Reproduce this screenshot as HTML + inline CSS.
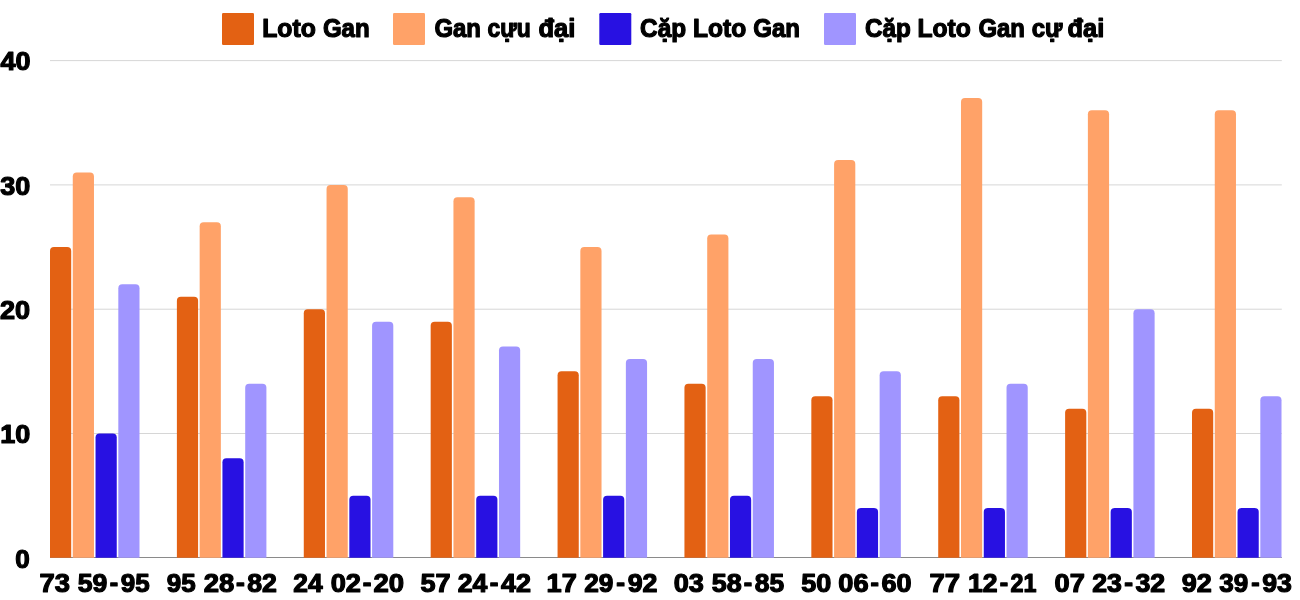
<!DOCTYPE html>
<html lang="vi">
<head>
<meta charset="utf-8">
<title>Loto Gan</title>
<style>
html,body{margin:0;padding:0;background:#fff;}
body{width:1300px;height:600px;overflow:hidden;}
svg{display:block;}
text{font-family:"Liberation Sans", sans-serif;font-weight:700;font-size:25.8px;fill:#000;stroke:#000;stroke-width:1.2px;stroke-linejoin:round;white-space:pre;}
</style>
</head>
<body>
<svg width="1300" height="600" viewBox="0 0 1300 600">
<rect x="0" y="0" width="1300" height="600" fill="#ffffff"/>
<rect x="50.0" y="433.00" width="1231.8" height="1" fill="#d6d6d6"/>
<rect x="50.0" y="308.70" width="1231.8" height="1" fill="#d6d6d6"/>
<rect x="50.0" y="184.40" width="1231.8" height="1" fill="#d6d6d6"/>
<rect x="50.0" y="60.10" width="1231.8" height="1" fill="#d6d6d6"/>
<rect x="50.0" y="557" width="1231.8" height="1" fill="#8a8a8a"/>
<path d="M50.00 557.80V251.05A4.0 4.0 0 0 1 54.00 247.05H67.20A4.0 4.0 0 0 1 71.20 251.05V557.80Z" fill="#e36113"/>
<path d="M72.77 557.80V176.47A4.0 4.0 0 0 1 76.77 172.47H89.97A4.0 4.0 0 0 1 93.97 176.47V557.80Z" fill="#ffa268"/>
<path d="M95.54 557.80V437.50A4.0 4.0 0 0 1 99.54 433.50H112.74A4.0 4.0 0 0 1 116.74 437.50V557.80Z" fill="#2811e2"/>
<path d="M118.31 557.80V288.34A4.0 4.0 0 0 1 122.31 284.34H135.51A4.0 4.0 0 0 1 139.51 288.34V557.80Z" fill="#a095ff"/>
<path d="M176.89 557.80V300.77A4.0 4.0 0 0 1 180.89 296.77H194.09A4.0 4.0 0 0 1 198.09 300.77V557.80Z" fill="#e36113"/>
<path d="M199.66 557.80V226.19A4.0 4.0 0 0 1 203.66 222.19H216.86A4.0 4.0 0 0 1 220.86 226.19V557.80Z" fill="#ffa268"/>
<path d="M222.43 557.80V462.36A4.0 4.0 0 0 1 226.43 458.36H239.63A4.0 4.0 0 0 1 243.63 462.36V557.80Z" fill="#2811e2"/>
<path d="M245.20 557.80V387.78A4.0 4.0 0 0 1 249.20 383.78H262.40A4.0 4.0 0 0 1 266.40 387.78V557.80Z" fill="#a095ff"/>
<path d="M303.78 557.80V313.20A4.0 4.0 0 0 1 307.78 309.20H320.98A4.0 4.0 0 0 1 324.98 313.20V557.80Z" fill="#e36113"/>
<path d="M326.55 557.80V188.90A4.0 4.0 0 0 1 330.55 184.90H343.75A4.0 4.0 0 0 1 347.75 188.90V557.80Z" fill="#ffa268"/>
<path d="M349.32 557.80V499.65A4.0 4.0 0 0 1 353.32 495.65H366.52A4.0 4.0 0 0 1 370.52 499.65V557.80Z" fill="#2811e2"/>
<path d="M372.09 557.80V325.63A4.0 4.0 0 0 1 376.09 321.63H389.29A4.0 4.0 0 0 1 393.29 325.63V557.80Z" fill="#a095ff"/>
<path d="M430.67 557.80V325.63A4.0 4.0 0 0 1 434.67 321.63H447.87A4.0 4.0 0 0 1 451.87 325.63V557.80Z" fill="#e36113"/>
<path d="M453.44 557.80V201.33A4.0 4.0 0 0 1 457.44 197.33H470.64A4.0 4.0 0 0 1 474.64 201.33V557.80Z" fill="#ffa268"/>
<path d="M476.21 557.80V499.65A4.0 4.0 0 0 1 480.21 495.65H493.41A4.0 4.0 0 0 1 497.41 499.65V557.80Z" fill="#2811e2"/>
<path d="M498.98 557.80V350.49A4.0 4.0 0 0 1 502.98 346.49H516.18A4.0 4.0 0 0 1 520.18 350.49V557.80Z" fill="#a095ff"/>
<path d="M557.56 557.80V375.35A4.0 4.0 0 0 1 561.56 371.35H574.76A4.0 4.0 0 0 1 578.76 375.35V557.80Z" fill="#e36113"/>
<path d="M580.33 557.80V251.05A4.0 4.0 0 0 1 584.33 247.05H597.53A4.0 4.0 0 0 1 601.53 251.05V557.80Z" fill="#ffa268"/>
<path d="M603.10 557.80V499.65A4.0 4.0 0 0 1 607.10 495.65H620.30A4.0 4.0 0 0 1 624.30 499.65V557.80Z" fill="#2811e2"/>
<path d="M625.87 557.80V362.92A4.0 4.0 0 0 1 629.87 358.92H643.07A4.0 4.0 0 0 1 647.07 362.92V557.80Z" fill="#a095ff"/>
<path d="M684.44 557.80V387.78A4.0 4.0 0 0 1 688.44 383.78H701.64A4.0 4.0 0 0 1 705.64 387.78V557.80Z" fill="#e36113"/>
<path d="M707.21 557.80V238.62A4.0 4.0 0 0 1 711.21 234.62H724.41A4.0 4.0 0 0 1 728.41 238.62V557.80Z" fill="#ffa268"/>
<path d="M729.98 557.80V499.65A4.0 4.0 0 0 1 733.98 495.65H747.18A4.0 4.0 0 0 1 751.18 499.65V557.80Z" fill="#2811e2"/>
<path d="M752.75 557.80V362.92A4.0 4.0 0 0 1 756.75 358.92H769.95A4.0 4.0 0 0 1 773.95 362.92V557.80Z" fill="#a095ff"/>
<path d="M811.33 557.80V400.21A4.0 4.0 0 0 1 815.33 396.21H828.53A4.0 4.0 0 0 1 832.53 400.21V557.80Z" fill="#e36113"/>
<path d="M834.10 557.80V164.04A4.0 4.0 0 0 1 838.10 160.04H851.30A4.0 4.0 0 0 1 855.30 164.04V557.80Z" fill="#ffa268"/>
<path d="M856.87 557.80V512.08A4.0 4.0 0 0 1 860.87 508.08H874.07A4.0 4.0 0 0 1 878.07 512.08V557.80Z" fill="#2811e2"/>
<path d="M879.64 557.80V375.35A4.0 4.0 0 0 1 883.64 371.35H896.84A4.0 4.0 0 0 1 900.84 375.35V557.80Z" fill="#a095ff"/>
<path d="M938.22 557.80V400.21A4.0 4.0 0 0 1 942.22 396.21H955.42A4.0 4.0 0 0 1 959.42 400.21V557.80Z" fill="#e36113"/>
<path d="M960.99 557.80V101.89A4.0 4.0 0 0 1 964.99 97.89H978.19A4.0 4.0 0 0 1 982.19 101.89V557.80Z" fill="#ffa268"/>
<path d="M983.76 557.80V512.08A4.0 4.0 0 0 1 987.76 508.08H1000.96A4.0 4.0 0 0 1 1004.96 512.08V557.80Z" fill="#2811e2"/>
<path d="M1006.53 557.80V387.78A4.0 4.0 0 0 1 1010.53 383.78H1023.73A4.0 4.0 0 0 1 1027.73 387.78V557.80Z" fill="#a095ff"/>
<path d="M1065.11 557.80V412.64A4.0 4.0 0 0 1 1069.11 408.64H1082.31A4.0 4.0 0 0 1 1086.31 412.64V557.80Z" fill="#e36113"/>
<path d="M1087.88 557.80V114.32A4.0 4.0 0 0 1 1091.88 110.32H1105.08A4.0 4.0 0 0 1 1109.08 114.32V557.80Z" fill="#ffa268"/>
<path d="M1110.65 557.80V512.08A4.0 4.0 0 0 1 1114.65 508.08H1127.85A4.0 4.0 0 0 1 1131.85 512.08V557.80Z" fill="#2811e2"/>
<path d="M1133.42 557.80V313.20A4.0 4.0 0 0 1 1137.42 309.20H1150.62A4.0 4.0 0 0 1 1154.62 313.20V557.80Z" fill="#a095ff"/>
<path d="M1192.00 557.80V412.64A4.0 4.0 0 0 1 1196.00 408.64H1209.20A4.0 4.0 0 0 1 1213.20 412.64V557.80Z" fill="#e36113"/>
<path d="M1214.77 557.80V114.32A4.0 4.0 0 0 1 1218.77 110.32H1231.97A4.0 4.0 0 0 1 1235.97 114.32V557.80Z" fill="#ffa268"/>
<path d="M1237.54 557.80V512.08A4.0 4.0 0 0 1 1241.54 508.08H1254.74A4.0 4.0 0 0 1 1258.74 512.08V557.80Z" fill="#2811e2"/>
<path d="M1260.31 557.80V400.21A4.0 4.0 0 0 1 1264.31 396.21H1277.51A4.0 4.0 0 0 1 1281.51 400.21V557.80Z" fill="#a095ff"/>
<text y="567.55"><tspan x="15.27" textLength="14.50" lengthAdjust="spacingAndGlyphs">0</tspan></text>
<text y="443.25"><tspan x="0.20" textLength="30.01" lengthAdjust="spacingAndGlyphs">10</tspan></text>
<text y="318.95"><tspan x="0.06" textLength="30.15" lengthAdjust="spacingAndGlyphs">20</tspan></text>
<text y="194.65"><tspan x="0.18" textLength="30.03" lengthAdjust="spacingAndGlyphs">30</tspan></text>
<text y="70.35"><tspan x="0.49" textLength="30.02" lengthAdjust="spacingAndGlyphs">40</tspan></text>
<text y="591.6"><tspan x="39.42" textLength="30.47" lengthAdjust="spacingAndGlyphs">73</tspan> <tspan x="77.78" textLength="29.61" lengthAdjust="spacingAndGlyphs">59</tspan><tspan x="109.82" dy="-0.9" textLength="8.39" lengthAdjust="spacingAndGlyphs">-</tspan><tspan x="120.70" dy="0.9" textLength="28.93" lengthAdjust="spacingAndGlyphs">95</tspan></text>
<text y="591.6"><tspan x="166.70" textLength="28.93" lengthAdjust="spacingAndGlyphs">95</tspan> <tspan x="203.65" textLength="30.60" lengthAdjust="spacingAndGlyphs">28</tspan><tspan x="235.97" dy="-0.9" textLength="8.79" lengthAdjust="spacingAndGlyphs">-</tspan><tspan x="247.25" dy="0.9" textLength="29.72" lengthAdjust="spacingAndGlyphs">82</tspan></text>
<text y="591.6"><tspan x="293.39" textLength="29.36" lengthAdjust="spacingAndGlyphs">24</tspan> <tspan x="330.72" textLength="30.27" lengthAdjust="spacingAndGlyphs">02</tspan><tspan x="362.78" dy="-0.9" textLength="8.66" lengthAdjust="spacingAndGlyphs">-</tspan><tspan x="373.45" dy="0.9" textLength="30.58" lengthAdjust="spacingAndGlyphs">20</tspan></text>
<text y="591.6"><tspan x="420.47" textLength="30.12" lengthAdjust="spacingAndGlyphs">57</tspan> <tspan x="457.68" textLength="29.67" lengthAdjust="spacingAndGlyphs">24</tspan><tspan x="489.78" dy="-0.9" textLength="8.66" lengthAdjust="spacingAndGlyphs">-</tspan><tspan x="500.99" dy="0.9" textLength="29.99" lengthAdjust="spacingAndGlyphs">42</tspan></text>
<text y="591.6"><tspan x="546.59" textLength="30.20" lengthAdjust="spacingAndGlyphs">17</tspan> <tspan x="584.19" textLength="29.18" lengthAdjust="spacingAndGlyphs">29</tspan><tspan x="616.27" dy="-0.9" textLength="8.79" lengthAdjust="spacingAndGlyphs">-</tspan><tspan x="627.67" dy="0.9" textLength="29.80" lengthAdjust="spacingAndGlyphs">92</tspan></text>
<text y="591.6"><tspan x="673.73" textLength="30.15" lengthAdjust="spacingAndGlyphs">03</tspan> <tspan x="711.77" textLength="29.96" lengthAdjust="spacingAndGlyphs">58</tspan><tspan x="743.82" dy="-0.9" textLength="8.39" lengthAdjust="spacingAndGlyphs">-</tspan><tspan x="754.76" dy="0.9" textLength="29.37" lengthAdjust="spacingAndGlyphs">85</tspan></text>
<text y="591.6"><tspan x="801.27" textLength="30.04" lengthAdjust="spacingAndGlyphs">50</tspan> <tspan x="838.32" textLength="30.26" lengthAdjust="spacingAndGlyphs">06</tspan><tspan x="870.62" dy="-0.9" textLength="8.39" lengthAdjust="spacingAndGlyphs">-</tspan><tspan x="881.41" dy="0.9" textLength="30.10" lengthAdjust="spacingAndGlyphs">60</tspan></text>
<text y="591.6"><tspan x="929.41" textLength="30.70" lengthAdjust="spacingAndGlyphs">77</tspan> <tspan x="967.93" textLength="29.54" lengthAdjust="spacingAndGlyphs">12</tspan><tspan x="999.82" dy="-0.9" textLength="8.39" lengthAdjust="spacingAndGlyphs">-</tspan><tspan x="1010.59" dy="0.9" textLength="25.96" lengthAdjust="spacingAndGlyphs">21</tspan></text>
<text y="591.6"><tspan x="1054.52" textLength="30.27" lengthAdjust="spacingAndGlyphs">07</tspan> <tspan x="1092.17" textLength="29.69" lengthAdjust="spacingAndGlyphs">23</tspan><tspan x="1124.27" dy="-0.9" textLength="8.79" lengthAdjust="spacingAndGlyphs">-</tspan><tspan x="1135.49" dy="0.9" textLength="29.79" lengthAdjust="spacingAndGlyphs">32</tspan></text>
<text y="591.6"><tspan x="1181.66" textLength="30.02" lengthAdjust="spacingAndGlyphs">92</tspan> <tspan x="1219.20" textLength="28.96" lengthAdjust="spacingAndGlyphs">39</tspan><tspan x="1251.32" dy="-0.9" textLength="8.39" lengthAdjust="spacingAndGlyphs">-</tspan><tspan x="1262.17" dy="0.9" textLength="29.69" lengthAdjust="spacingAndGlyphs">93</tspan></text>
<rect x="222" y="13" width="32" height="32" rx="1.2" fill="#e36113"/>
<text y="36.7"><tspan x="262.24" textLength="53.62" lengthAdjust="spacingAndGlyphs">Loto</tspan> <tspan x="322.91" textLength="46.78" lengthAdjust="spacingAndGlyphs">Gan</tspan></text>
<rect x="393" y="13" width="32" height="32" rx="1.2" fill="#ffa268"/>
<text y="36.7"><tspan x="434.42" textLength="46.46" lengthAdjust="spacingAndGlyphs">Gan</tspan> <tspan x="487.41" textLength="43.30" lengthAdjust="spacingAndGlyphs">cựu</tspan> <tspan x="538.55" textLength="36.85" lengthAdjust="spacingAndGlyphs">đại</tspan></text>
<rect x="599.3" y="13" width="32" height="32" rx="1.2" fill="#2811e2"/>
<text y="36.7"><tspan x="640.10" textLength="46.00" lengthAdjust="spacingAndGlyphs">Cặp</tspan> <tspan x="693.06" textLength="53.20" lengthAdjust="spacingAndGlyphs">Loto</tspan> <tspan x="753.32" textLength="46.67" lengthAdjust="spacingAndGlyphs">Gan</tspan></text>
<rect x="824" y="13" width="32" height="32" rx="1.2" fill="#a095ff"/>
<text y="36.7"><tspan x="865.11" textLength="45.79" lengthAdjust="spacingAndGlyphs">Cặp</tspan> <tspan x="917.45" textLength="53.41" lengthAdjust="spacingAndGlyphs">Loto</tspan> <tspan x="978.42" textLength="46.46" lengthAdjust="spacingAndGlyphs">Gan</tspan> <tspan x="1031.66" textLength="30.74" lengthAdjust="spacingAndGlyphs">cự</tspan> <tspan x="1067.56" textLength="36.64" lengthAdjust="spacingAndGlyphs">đại</tspan></text>
</svg>
</body>
</html>
